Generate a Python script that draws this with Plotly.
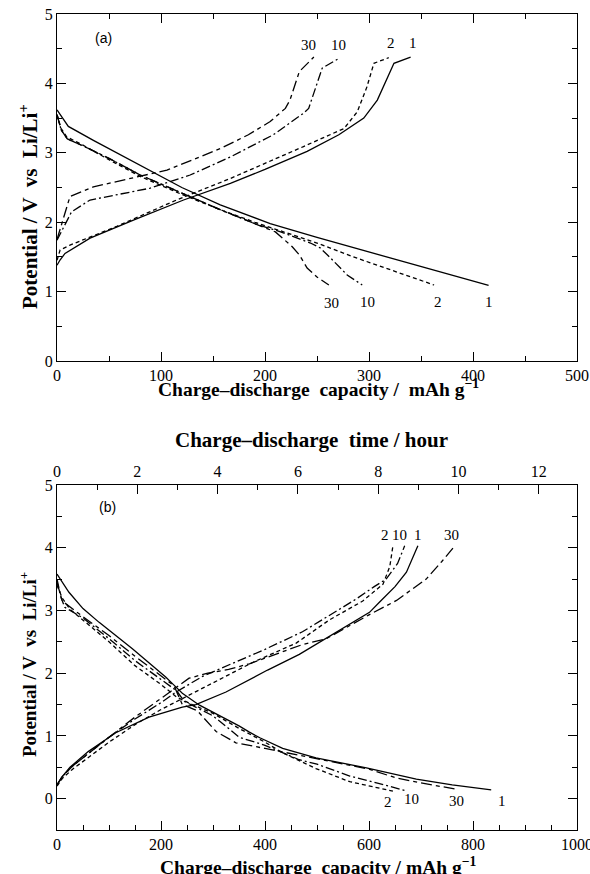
import plotly.graph_objects as go

# ---------------- Panel (a) data ----------------
a1_dis_cap = [0, 10.9, 35, 60, 90, 120, 157, 205, 250, 300, 350, 415]
a1_dis_v = [3.62, 3.38, 3.18, 2.98, 2.73, 2.50, 2.25, 1.98, 1.78, 1.57, 1.37, 1.09]
a2_dis_cap = [0, 4, 9.3, 25, 50, 80, 120, 157, 190, 221, 250, 285, 320, 362.6]
a2_dis_v = [3.55, 3.35, 3.23, 3.11, 2.90, 2.66, 2.40, 2.18, 2.00, 1.84, 1.70, 1.50, 1.32, 1.095]
a10_dis_cap = [0, 4, 10, 25, 50, 80, 120, 157, 190, 215, 243.7, 253, 262, 271, 279, 293.5]
a10_dis_v = [3.55, 3.33, 3.20, 3.10, 2.92, 2.68, 2.42, 2.18, 1.98, 1.86, 1.70, 1.63, 1.50, 1.36, 1.24, 1.095]
a30_dis_cap = [0, 4, 10, 25, 50, 80, 120, 157, 190, 210, 226, 233, 240.5, 250, 261.4]
a30_dis_v = [3.55, 3.33, 3.20, 3.10, 2.92, 2.68, 2.42, 2.18, 1.98, 1.86, 1.65, 1.53, 1.34, 1.21, 1.095]

a1_chg_cap = [0, 2.9, 7.7, 31.8, 73.5, 121.7, 166.7, 200, 240.5, 271, 295, 308, 324, 340]
a1_chg_v = [1.38, 1.455, 1.55, 1.77, 2.03, 2.32, 2.56, 2.76, 3.02, 3.26, 3.50, 3.76, 4.29, 4.38]
a2_chg_cap = [0, 3, 12.5, 57.5, 115, 166.7, 237, 276, 288.7, 298, 304.7, 319]
a2_chg_v = [1.45, 1.60, 1.67, 1.94, 2.32, 2.63, 3.09, 3.35, 3.59, 3.95, 4.29, 4.37]
a10_chg_cap = [0, 14, 31.8, 89.6, 128, 166.7, 208, 237, 242, 255, 271]
a10_chg_v = [1.74, 2.15, 2.32, 2.49, 2.68, 2.94, 3.26, 3.57, 3.64, 4.22, 4.36]
a30_chg_cap = [0, 12.5, 35, 105.7, 157, 184, 205, 219.6, 224, 233, 247]
a30_chg_v = [1.75, 2.37, 2.51, 2.75, 3.06, 3.26, 3.45, 3.64, 3.76, 4.17, 4.38]

a_top_labels = ["30", "10", "2", "1"]
a_top_label_cap = [242, 271, 321, 342]
a_top_label_v = [4.55, 4.55, 4.58, 4.58]
a_bot_labels = ["30", "10", "2", "1"]
a_bot_label_cap = [264, 299, 366, 415]
a_bot_label_v = [0.84, 0.85, 0.85, 0.85]

# ---------------- Panel (b) data ----------------
b1_chg_cap = [0, 10, 25, 60, 113, 177, 241, 267, 325, 405, 466, 530, 601, 620, 650, 672, 685, 694]
b1_chg_v = [0.22, 0.35, 0.50, 0.75, 1.05, 1.30, 1.46, 1.50, 1.70, 2.05, 2.30, 2.62, 2.97, 3.13, 3.38, 3.61, 3.85, 4.03]
b2_chg_cap = [0, 10, 30, 60, 100, 150, 200, 254, 300, 376, 460, 524, 588, 627, 640, 646]
b2_chg_v = [0.20, 0.32, 0.47, 0.65, 0.90, 1.18, 1.42, 1.65, 1.85, 2.17, 2.48, 2.85, 3.15, 3.42, 3.70, 4.03]
b10_chg_cap = [0, 10, 30, 60, 100, 150, 200, 229, 280, 344, 400, 472, 520, 575, 610, 633, 655, 668.6]
b10_chg_v = [0.22, 0.35, 0.52, 0.72, 0.98, 1.27, 1.53, 1.70, 1.95, 2.18, 2.38, 2.66, 2.90, 3.18, 3.38, 3.50, 3.75, 4.03]
b30_chg_cap = [0, 10, 30, 60, 100, 150, 200, 229, 254, 290, 330, 370, 420, 470, 518, 556, 600, 653, 710, 740, 765]
b30_chg_v = [0.22, 0.35, 0.52, 0.72, 0.98, 1.30, 1.60, 1.78, 1.92, 2.00, 2.06, 2.15, 2.30, 2.45, 2.55, 2.73, 2.93, 3.16, 3.50, 3.78, 4.03]

b1_dis_cap = [0, 10, 23, 50, 81, 145, 209, 225, 241, 274, 318, 350, 370, 390, 434, 498, 595, 691, 760, 835]
b1_dis_v = [3.58, 3.45, 3.29, 3.03, 2.81, 2.39, 1.94, 1.81, 1.68, 1.49, 1.30, 1.16, 1.06, 0.97, 0.80, 0.65, 0.49, 0.31, 0.22, 0.14]
b2_dis_cap = [0, 10, 25, 60, 100, 150, 200, 230, 260, 300, 350, 400, 434, 498, 563, 646]
b2_dis_v = [3.40, 3.20, 3.02, 2.78, 2.50, 2.12, 1.82, 1.62, 1.50, 1.36, 1.12, 0.90, 0.73, 0.48, 0.27, 0.12]
b10_dis_cap = [0, 8, 15, 50, 100, 150, 200, 230, 245, 270, 300, 330, 350, 400, 466, 500, 563, 620, 669]
b10_dis_v = [3.50, 3.20, 3.05, 2.88, 2.55, 2.20, 1.90, 1.72, 1.55, 1.45, 1.32, 1.12, 0.98, 0.85, 0.62, 0.55, 0.36, 0.24, 0.13]
b30_dis_cap = [0, 10, 50, 100, 150, 200, 225, 241, 270, 306, 344, 400, 450, 500, 550, 600, 652, 700, 768]
b30_dis_v = [3.45, 3.15, 2.90, 2.60, 2.27, 1.95, 1.80, 1.50, 1.40, 1.07, 0.89, 0.80, 0.72, 0.63, 0.56, 0.47, 0.33, 0.25, 0.15]

b_top_labels = ["2", "10", "1", "30"]
b_top_label_cap = [630, 659, 694, 758]
b_top_label_v = [4.21, 4.21, 4.21, 4.21]
b_bot_labels = ["2", "10", "30", "1"]
b_bot_label_cap = [636, 681, 768, 855]
b_bot_label_v = [-0.06, -0.01, -0.04, -0.04]

a_xticks = [0, 100, 200, 300, 400, 500]
b_xticks = [0, 200, 400, 600, 800, 1000]
b_hour_ticks = [0, 2, 4, 6, 8, 10, 12]
hour_range_max = 12.95

# ---------------- styles ----------------
DASH = {"1": "solid", "2": "4px,3px", "10": "9px,3px,2px,3px", "30": "11px,4px,4px,4px"}
LW = 1.3
SERIF = "Liberation Serif"

fig = go.Figure()

def add(cap, v, cyc, xa, ya):
    fig.add_trace(go.Scatter(x=cap, y=v, mode="lines", xaxis=xa, yaxis=ya,
                             line=dict(color="black", width=LW, dash=DASH[cyc]),
                             showlegend=False, hoverinfo="skip"))

for cap, v, c in [(a1_dis_cap, a1_dis_v, "1"), (a2_dis_cap, a2_dis_v, "2"),
                  (a10_dis_cap, a10_dis_v, "10"), (a30_dis_cap, a30_dis_v, "30"),
                  (a1_chg_cap, a1_chg_v, "1"), (a2_chg_cap, a2_chg_v, "2"),
                  (a10_chg_cap, a10_chg_v, "10"), (a30_chg_cap, a30_chg_v, "30")]:
    add(cap, v, c, "x", "y")

for cap, v, c in [(b1_dis_cap, b1_dis_v, "1"), (b2_dis_cap, b2_dis_v, "2"),
                  (b10_dis_cap, b10_dis_v, "10"), (b30_dis_cap, b30_dis_v, "30"),
                  (b1_chg_cap, b1_chg_v, "1"), (b2_chg_cap, b2_chg_v, "2"),
                  (b10_chg_cap, b10_chg_v, "10"), (b30_chg_cap, b30_chg_v, "30")]:
    add(cap, v, c, "x2", "y2")

# invisible trace so that the hour axis is drawn
fig.add_trace(go.Scatter(x=[b_hour_ticks[0]], y=[b1_chg_v[0]], xaxis="x3", yaxis="y2",
                         mode="markers", marker=dict(opacity=0), showlegend=False,
                         hoverinfo="skip"))

tickfont = dict(family=SERIF, size=16, color="black")
common = dict(showline=True, linecolor="black", linewidth=1.3, ticks="inside",
              tickcolor="black", tickwidth=1.2, ticklen=9, showgrid=False,
              zeroline=False, tickfont=tickfont, automargin=False,
              ticklabeloverflow="allow")
minor = dict(ticks="inside", ticklen=5, tickcolor="black", tickwidth=1.1, showgrid=False)

H = 874
T, B = 14, 44
PH = H - T - B
def yf(py):
    return (H - B - py) / PH

fig.update_layout(
    width=590, height=874,
    margin=dict(l=57, r=13, t=T, b=B),
    paper_bgcolor="white", plot_bgcolor="white",
    xaxis=dict(common, range=[0, 500], tickvals=a_xticks, mirror="ticks",
               minor=dict(minor, dtick=50), anchor="y", domain=[0, 1]),
    yaxis=dict(common, range=[0, 5], dtick=1, mirror="ticks",
               minor=dict(minor, dtick=0.5), anchor="x",
               domain=[yf(361), 1]),
    xaxis2=dict(common, range=[0, 1000], tickvals=b_xticks, mirror=True,
                minor=dict(minor, dtick=50), anchor="y2", domain=[0, 1]),
    yaxis2=dict(common, range=[-0.5, 5], tickvals=[0, 1, 2, 3, 4, 5], mirror="ticks",
                minor=dict(minor, dtick=0.5), anchor="x2", domain=[0, yf(485)]),
    xaxis3=dict(common, range=[0, hour_range_max], tickvals=b_hour_ticks,
                minor=dict(minor, dtick=1), overlaying="x2", side="top",
                anchor="y2"),
)

ann = []
def txt(x, y, s, size, xref="paper", yref="paper", bold=False, family=SERIF, angle=0,
        xanchor="center", yanchor="middle"):
    ann.append(dict(x=x, y=y, xref=xref, yref=yref, text=(f"<b>{s}</b>" if bold else s),
                    showarrow=False, textangle=angle, xanchor=xanchor, yanchor=yanchor,
                    font=dict(family=family, size=size, color="black")))

for s, c, v in zip(a_top_labels, a_top_label_cap, a_top_label_v):
    txt(c, v, s, 15, "x", "y")
for s, c, v in zip(a_bot_labels, a_bot_label_cap, a_bot_label_v):
    txt(c, v, s, 15, "x", "y")
for s, c, v in zip(b_top_labels, b_top_label_cap, b_top_label_v):
    txt(c, v, s, 15, "x2", "y2")
for s, c, v in zip(b_bot_labels, b_bot_label_cap, b_bot_label_v):
    txt(c, v, s, 15, "x2", "y2")

def xf(px):
    return (px - 57) / 520

txt(xf(103), yf(38), "(a)", 14, family="Liberation Sans")
txt(xf(107), yf(507), "(b)", 14, family="Liberation Sans")

txt(xf(318), yf(388), "Charge–discharge  capacity /  mAh g<sup>−1</sup>", 19.5, bold=True)
txt(xf(318), yf(866), "Charge–discharge  capacity / mAh g<sup>−1</sup>", 19.5, bold=True)
txt(xf(311), yf(440), "Charge–discharge  time / hour", 21, bold=True)
txt(xf(28), yf(207), "Potential / V  vs  Li/Li<sup>+</sup>", 21, bold=True, angle=-90)
txt(xf(28), yf(665), "Potential / V  vs  Li/Li<sup>+</sup>", 19, bold=True, angle=-90)

fig.update_layout(annotations=ann)
fig.write_html("out.html", config={"displayModeBar": False},
               post_script="document.body.style.margin='0';document.body.style.overflow='hidden';")
